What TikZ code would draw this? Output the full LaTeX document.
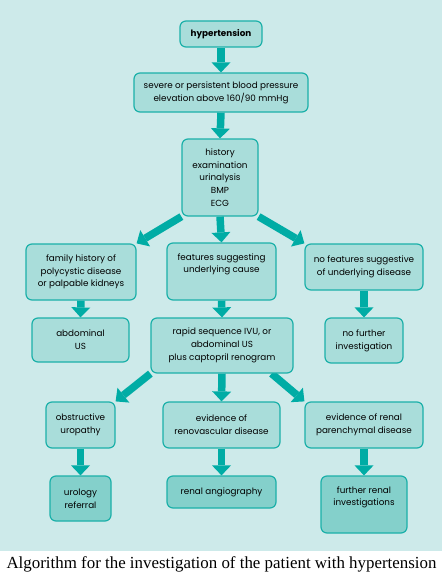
\documentclass[tikz,border=0pt]{standalone}
\usepackage{fontspec}
\setmainfont{Liberation Serif}
\newfontfamily\boxfont{Poppins}
\usetikzlibrary{arrows.meta, calc, backgrounds}
\pgfdeclarelayer{panel}
\pgfsetlayers{panel,background,main}
\definecolor{panelbg}{HTML}{CDEAEA}
\definecolor{boxfill}{HTML}{A9DDDA}
\definecolor{endfill}{HTML}{84D0CB}
\definecolor{boxline}{HTML}{1BB0A9}
\definecolor{arrowcol}{HTML}{00ACA5}
\tikzset{
  box/.style={draw=boxline, fill=boxfill, line width=1.2pt, rounded corners=6pt,
    align=center, inner sep=0pt, font=\boxfont\fontsize{8.8}{12.7}\selectfont},
  endbox/.style={box, fill=endfill},
  arr/.style={draw=arrowcol, line width=7.5pt,
    -{Triangle[width=19pt,length=10pt,line width=0pt]}},
}

\begin{document}
\begin{tikzpicture}[x=1pt, y=-1pt]
      \useasboundingbox (0,0) rectangle (443,578);
      \begin{pgfonlayer}{panel}
        \fill[panelbg] (0,0) rectangle (442,551);
      \end{pgfonlayer}

      \node[box, minimum width=82pt, minimum height=26pt, font=\boxfont\bfseries\fontsize{8.8}{12.7}\selectfont] (hyp) at (221,34) {hypertension};
      \node[box, minimum width=174pt, minimum height=39pt] (sev) at (221,92.5) {severe or persistent blood pressure\\elevation above 160/90 mmHg};
      \node[box, minimum width=76pt, minimum height=77pt] (hist) at (220,177.5) {history\\examination\\urinalysis\\BMP\\ECG};

      \node[box, minimum width=110pt, minimum height=56pt] (fam) at (81,272) {family history of\\polycystic disease\\or palpable kidneys};
      \node[box, minimum width=109pt, minimum height=57pt] (feat) at (221.5,271.5) {features suggesting\\underlying cause\\\strut};
      \node[box, minimum width=118pt, minimum height=46pt] (nofeat) at (364,267) {no features suggestive\\of underlying disease};

      \node[box, minimum width=97pt, minimum height=44pt] (abd) at (80.5,340) {abdominal\\US};
      \node[box, minimum width=142pt, minimum height=55pt] (rapid) at (222,345.5) {rapid sequence IVU, or\\abdominal US\\plus captopril renogram};
      \node[box, minimum width=78pt, minimum height=45pt] (nofur) at (364,340.5) {no further\\investigation};

      \node[box, minimum width=69pt, minimum height=46pt] (obs) at (80.5,425) {obstructive\\uropathy};
      \node[box, minimum width=117pt, minimum height=46pt] (renov) at (221.5,425) {evidence of\\renovascular disease};
      \node[box, minimum width=118pt, minimum height=46pt] (paren) at (364,425) {evidence of renal\\parenchymal disease};

      \node[endbox, minimum width=61pt, minimum height=45pt] (uro) at (80.5,498.5) {urology\\referral};
      \node[endbox, minimum width=109pt, minimum height=32pt] (angio) at (221.5,492) {renal angiography};
      \node[endbox, minimum width=86pt, minimum height=57pt] (furth) at (364,504.5) {further renal\\investigations\\\strut};

      \node[anchor=base, font=\fontsize{16.9}{19}\selectfont] (caption) at (221.5,568) {Algorithm for the investigation of the patient with hypertension};

      \begin{scope}[on background layer]
        \draw[arr] (hyp.south) -- (sev.north);
        \draw[arr] (sev.south) -- (hist.north);
        \draw[arr] (hist.south west) -- (fam.north east);
        \draw[arr] (hist.south) -- (feat.north);
        \draw[arr] (hist.south east) -- (nofeat.north west);
        \draw[arr] (fam.south) -- (abd.north);
        \draw[arr] (feat.south) -- (rapid.north);
        \draw[arr] (nofeat.south) -- (nofur.north);
        \draw[arr] (rapid.south west) -- (obs.north east);
        \draw[arr] (rapid.south) -- (renov.north);
        \draw[arr] ([xshift=-22pt]rapid.south east) -- (paren.north west);
        \draw[arr] (obs.south) -- (uro.north);
        \draw[arr] (renov.south) -- (angio.north);
        \draw[arr] (paren.south) -- (furth.north);
      \end{scope}
    \end{tikzpicture}
\end{document}
